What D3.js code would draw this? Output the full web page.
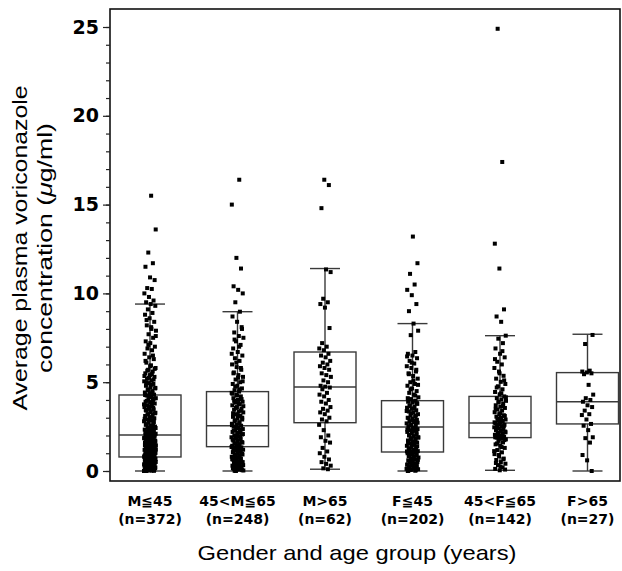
<!DOCTYPE html>
<html>
<head>
<meta charset="utf-8">
<script src="https://cdn.jsdelivr.net/npm/d3@7"></script>
<style>
  html, body { margin: 0; padding: 0; background: #fff; }
  svg { display: block; }
</style>
</head>
<body>
<div id="chart"></div>
<script>
// group labels, two lines each
const groups = ["M≦45", "45<M≦65", "M>65", "F≦45", "45<F≦65", "F>65"];
const counts = ["(n=372)", "(n=248)", "(n=62)", "(n=202)", "(n=142)", "(n=27)"];

// box statistics
const whiskerLow = [0, 0, 0.1, 0, 0.04, 0];
const q1 = [0.79, 1.37, 2.72, 1.07, 1.88, 2.65];
const median = [2.03, 2.55, 4.73, 2.48, 2.7, 3.9];
const q3 = [4.28, 4.47, 6.7, 3.96, 4.2, 5.54];
const whiskerHigh = [9.4, 8.97, 11.4, 8.3, 7.62, 7.7];

// individual concentrations (ug/ml), estimated from the dot strips
const valuesMle45 = [0, 0.02, 0.05, 0.06, 0.1, 0.11, 0.14, 0.17, 0.2, 0.22, 0.23, 0.27, 0.3, 0.31, 0.35, 0.36, 0.4, 0.42, 0.44, 0.47,
  0.5, 0.51, 0.55, 0.58, 0.6, 0.61, 0.63, 0.66, 0.69, 0.7, 0.72, 0.75, 0.77, 0.78, 0.8, 0.81, 0.84, 0.88, 0.9, 0.93,
  0.97, 1.0, 1.02, 1.06, 1.1, 1.12, 1.15, 1.19, 1.22, 1.25, 1.3, 1.31, 1.35, 1.38, 1.4, 1.44, 1.47, 1.5, 1.53, 1.56,
  1.6, 1.62, 1.66, 1.7, 1.71, 1.75, 1.78, 1.8, 1.84, 1.87, 1.9, 1.93, 1.96, 2.0, 2.02, 2.06, 2.1, 2.15, 2.2, 2.24,
  2.3, 2.33, 2.4, 2.45, 2.5, 2.56, 2.6, 2.68, 2.72, 2.8, 2.85, 2.9, 2.97, 3.0, 3.1, 3.15, 3.2, 3.28, 3.35, 3.4,
  3.47, 3.5, 3.6, 3.66, 3.7, 3.8, 3.85, 3.9, 4.0, 4.05, 4.1, 4.2, 4.25, 4.3, 4.35, 4.42, 4.5, 4.6, 4.65, 4.72,
  4.8, 4.9, 4.95, 5.05, 5.1, 5.2, 5.3, 5.4, 5.5, 5.6, 5.7, 5.8, 5.95, 6.1, 6.3, 6.4, 6.6, 6.8, 6.9, 7.0,
  7.2, 7.3, 7.5, 7.7, 7.9, 8.0, 8.2, 8.4, 8.6, 8.8, 8.9, 9.1, 9.3, 9.4, 9.5, 9.6, 9.8, 10.0, 10.25, 10.3,
  10.75, 10.9, 11.5, 11.7, 12.3, 13.6, 15.5,
  0, 0.01, 0.04, 0.08, 0.09, 0.13, 0.16, 0.19, 0.25, 0.28, 0.33, 0.38, 0.39, 0.45, 0.48, 0.53, 0.56, 0.59, 0.64, 0.67,
  0.71, 0.74, 0.79, 0.83, 0.86, 0.91, 0.95, 0.99, 1.04, 1.08, 1.14, 1.17, 1.21, 1.27, 1.33, 1.37, 1.42, 1.46, 1.52, 1.58,
  1.64, 1.68, 1.73, 1.77, 1.82, 1.86, 1.91, 1.98, 2.04, 2.12, 2.18, 2.27, 2.36, 2.42, 2.53, 2.64, 2.76, 2.88, 2.94, 3.05,
  3.18, 3.25, 3.32, 3.44, 3.55, 3.63, 3.75, 3.88, 3.95, 4.08, 4.16, 4.28, 4.4, 4.55, 4.68, 4.85, 5.0, 5.15, 5.25, 5.35,
  5.45, 5.65, 5.75, 5.9, 6.2, 6.5, 7.1, 7.6, 8.1, 8.5];
const valuesM45to65 = [0, 0.03, 0.08, 0.12, 0.18, 0.25, 0.3, 0.36, 0.42, 0.5, 0.55, 0.62, 0.7, 0.74, 0.8, 0.86, 0.9, 0.97, 1.0, 1.06,
  1.1, 1.15, 1.2, 1.24, 1.3, 1.33, 1.37, 1.42, 1.5, 1.55, 1.6, 1.66, 1.72, 1.8, 1.84, 1.9, 1.96, 2.0, 2.05, 2.12,
  2.2, 2.25, 2.3, 2.36, 2.42, 2.5, 2.55, 2.6, 2.66, 2.75, 2.8, 2.9, 2.95, 3.05, 3.1, 3.2, 3.3, 3.35, 3.45, 3.5,
  3.6, 3.7, 3.75, 3.85, 3.9, 4.0, 4.1, 4.2, 4.3, 4.4, 4.47, 4.55, 4.65, 4.8, 4.9, 5.0, 5.15, 5.3, 5.4, 5.55,
  5.7, 5.85, 6.0, 6.2, 6.35, 6.5, 6.7, 6.9, 7.1, 7.3, 7.5, 7.6, 7.8, 8.1, 8.4, 8.7, 8.97, 9.5, 10.0, 10.2,
  10.4, 11.4, 12.0, 15.0, 16.4,
  0.01, 0.05, 0.1, 0.15, 0.21, 0.28, 0.33, 0.39, 0.46, 0.52, 0.58, 0.66, 0.77, 0.83, 0.93, 1.03, 1.12, 1.18, 1.27, 1.35,
  1.46, 1.53, 1.63, 1.69, 1.77, 1.87, 1.93, 2.08, 2.16, 2.28, 2.33, 2.46, 2.58, 2.7, 2.86, 3.0, 3.15, 3.25, 3.4, 3.55,
  3.65, 3.8, 3.95, 4.05, 4.25, 4.35, 4.6, 4.75, 5.05, 5.25, 5.5, 5.8, 6.1, 6.6, 7.0, 7.4, 8.0];
const valuesMgt65 = [0.1, 0.15, 0.3, 0.4, 0.5, 0.65, 0.8, 1.0, 1.1, 1.3, 1.6, 1.7, 1.9, 2.0, 2.3, 2.6, 2.8, 2.9, 3.0, 3.2,
  3.3, 3.4, 3.5, 3.6, 3.8, 3.9, 4.0, 4.2, 4.3, 4.4, 4.6, 4.7, 4.75, 4.8, 5.0, 5.1, 5.3, 5.4, 5.5, 5.7,
  5.8, 5.9, 6.0, 6.1, 6.2, 6.4, 6.5, 6.6, 6.8, 6.9, 7.0, 7.2, 8.05, 9.2, 9.4, 9.5, 9.7, 11.2, 11.35, 14.8,
  16.1, 16.4];
const valuesFle45 = [0, 0.02, 0.06, 0.1, 0.14, 0.2, 0.25, 0.3, 0.35, 0.4, 0.46, 0.5, 0.56, 0.6, 0.66, 0.7, 0.76, 0.8, 0.86, 0.9,
  0.95, 1.0, 1.04, 1.07, 1.12, 1.2, 1.25, 1.3, 1.36, 1.42, 1.5, 1.55, 1.6, 1.66, 1.72, 1.8, 1.85, 1.9, 1.96, 2.0,
  2.06, 2.12, 2.2, 2.26, 2.3, 2.36, 2.42, 2.48, 2.55, 2.6, 2.68, 2.75, 2.8, 2.88, 2.95, 3.0, 3.08, 3.15, 3.2, 3.3,
  3.35, 3.42, 3.5, 3.56, 3.62, 3.7, 3.78, 3.85, 3.9, 3.96, 4.05, 4.15, 4.3, 4.4, 4.5, 4.65, 4.8, 4.9, 5.0, 5.2,
  5.35, 5.5, 5.6, 5.8, 5.9, 6.05, 6.2, 6.35, 6.5, 6.6, 6.7, 7.65, 7.9, 8.3, 9.0, 9.4, 9.9, 10.2, 10.5, 11.1,
  11.7, 13.2,
  0.01, 0.04, 0.08, 0.12, 0.18, 0.23, 0.28, 0.33, 0.38, 0.43, 0.53, 0.63, 0.73, 0.83, 0.93, 1.02, 1.1, 1.17, 1.28, 1.39,
  1.47, 1.58, 1.69, 1.77, 1.88, 1.93, 2.03, 2.15, 2.23, 2.33, 2.45, 2.58, 2.72, 2.85, 2.98, 3.12, 3.25, 3.38, 3.53, 3.66,
  3.82, 3.93, 4.1, 4.25, 4.6, 4.85, 5.1, 5.45, 5.7, 6.1, 6.45];
const valuesF45to65 = [0.04, 0.12, 0.2, 0.33, 0.41, 0.5, 0.62, 0.7, 0.83, 0.95, 1.05, 1.18, 1.3, 1.42, 1.5, 1.61, 1.7, 1.78, 1.84, 1.88,
  1.93, 2.0, 2.04, 2.11, 2.15, 2.22, 2.26, 2.3, 2.37, 2.4, 2.46, 2.5, 2.57, 2.6, 2.66, 2.7, 2.78, 2.86, 2.9, 3.0,
  3.06, 3.14, 3.2, 3.31, 3.4, 3.46, 3.55, 3.62, 3.7, 3.8, 3.86, 3.95, 4.03, 4.1, 4.2, 4.32, 4.45, 4.6, 4.77, 4.9,
  5.02, 5.2, 5.36, 5.6, 5.8, 6.0, 6.15, 6.4, 6.6, 6.9, 7.2, 7.45, 7.62, 8.4, 8.7, 9.1, 11.4, 12.8, 17.4, 24.9,
  0.08, 0.25, 0.45, 0.66, 0.9, 1.12, 1.35, 1.55, 1.74, 1.82, 1.9, 1.98, 2.08, 2.18, 2.28, 2.43, 2.53, 2.63, 2.74, 2.82,
  2.95, 3.1, 3.25, 3.5, 3.66, 3.9, 4.15, 4.38, 4.7, 5.1, 5.5, 6.3, 6.75];
const valuesFgt65 = [0, 0.6, 0.9, 1.6, 1.85, 1.9, 2.3, 2.55, 2.65, 2.9, 3.15, 3.2, 3.4, 3.6, 3.7, 3.9, 4.0, 4.1, 4.3, 4.85,
  5.45, 5.5, 5.55, 5.6, 5.65, 7.15, 7.66];

const groupValues = [valuesMle45, valuesM45to65, valuesMgt65, valuesFle45, valuesF45to65, valuesFgt65];

const width = 622, height = 571;
const margin = { top: 9, right: 2, bottom: 90, left: 110 };

const svg = d3.select("#chart").append("svg")
  .attr("width", width)
  .attr("height", height);

const y = d3.scaleLinear().domain([0, 25]).range([471, 27]);
const x = d3.scalePoint().domain(groups).range([150, 587.5]);

const boxHalf = 31, capHalf = 15, jitter = 12, dot = 4;

// frame
svg.append("rect")
  .attr("x", margin.left).attr("y", margin.top)
  .attr("width", width - margin.left - margin.right)
  .attr("height", height - margin.top - margin.bottom)
  .attr("fill", "none")
  .attr("stroke", "#111")
  .attr("stroke-width", 1.6);

// y axis: minor and major ticks
const minor = svg.append("g")
  .attr("transform", `translate(${margin.left},0)`)
  .call(d3.axisLeft(y).tickValues(d3.range(0, 26, 1)).tickSize(4).tickFormat(""));
minor.select(".domain").remove();

const major = svg.append("g")
  .attr("transform", `translate(${margin.left},0)`)
  .call(d3.axisLeft(y).tickValues([0, 5, 10, 15, 20, 25]).tickSize(7).tickPadding(4));
major.select(".domain").remove();
major.selectAll("text")
  .attr("font-family", "DejaVu Sans, sans-serif")
  .attr("font-weight", "bold")
  .attr("font-size", 19)
  .attr("fill", "#000");
svg.selectAll(".tick line").attr("stroke", "#222").attr("stroke-width", 1.2);

// boxes
const box = svg.append("g")
  .selectAll("g")
  .data(groups)
  .join("g");

box.append("line")
  .attr("x1", d => x(d)).attr("x2", d => x(d))
  .attr("y1", (d, i) => y(q3[i])).attr("y2", (d, i) => y(whiskerHigh[i]));
box.append("line")
  .attr("x1", d => x(d)).attr("x2", d => x(d))
  .attr("y1", (d, i) => y(q1[i])).attr("y2", (d, i) => y(whiskerLow[i]));
box.append("line")
  .attr("x1", d => x(d) - capHalf).attr("x2", d => x(d) + capHalf)
  .attr("y1", (d, i) => y(whiskerHigh[i])).attr("y2", (d, i) => y(whiskerHigh[i]));
box.append("line")
  .attr("x1", d => x(d) - capHalf).attr("x2", d => x(d) + capHalf)
  .attr("y1", (d, i) => y(whiskerLow[i])).attr("y2", (d, i) => y(whiskerLow[i]));
box.append("rect")
  .attr("x", d => x(d) - boxHalf)
  .attr("y", (d, i) => y(q3[i]))
  .attr("width", boxHalf * 2)
  .attr("height", (d, i) => y(q1[i]) - y(q3[i]))
  .attr("fill", "none");
box.append("line")
  .attr("x1", d => x(d) - boxHalf).attr("x2", d => x(d) + boxHalf)
  .attr("y1", (d, i) => y(median[i])).attr("y2", (d, i) => y(median[i]));
box.selectAll("line, rect")
  .attr("stroke", "#3a3a3a")
  .attr("stroke-width", 1.4);

// jittered dots
const dots = [];
groupValues.forEach((vals, g) => {
  vals.forEach((v, i) => {
    const off = ((i * 0.61803398875 + g * 0.37) % 1 - 0.5) * jitter;
    dots.push({ group: groups[g], value: v, off: off });
  });
});

svg.append("g")
  .selectAll("rect")
  .data(dots)
  .join("rect")
  .attr("x", d => x(d.group) + d.off - dot / 2)
  .attr("y", d => y(d.value) - dot / 2)
  .attr("width", dot)
  .attr("height", dot)
  .attr("fill", "#000");

// x category labels
const labels = svg.append("g")
  .attr("font-family", "DejaVu Sans, sans-serif")
  .attr("font-weight", "bold")
  .attr("font-size", 14)
  .attr("text-anchor", "middle")
  .attr("fill", "#000");

labels.selectAll(".grp")
  .data(groups)
  .join("text")
  .attr("class", "grp")
  .attr("x", d => x(d))
  .attr("y", 506)
  .text(d => d);

labels.selectAll(".cnt")
  .data(counts)
  .join("text")
  .attr("class", "cnt")
  .attr("x", (d, i) => x(groups[i]))
  .attr("y", 524)
  .text(d => d);

// axis titles
svg.append("text")
  .attr("x", 357)
  .attr("y", 560)
  .attr("text-anchor", "middle")
  .attr("font-family", "Liberation Sans, Arial, sans-serif")
  .attr("font-size", 21)
  .attr("textLength", 319)
  .attr("lengthAdjust", "spacingAndGlyphs")
  .text("Gender and age group (years)");

const yTitle = svg.append("g")
  .attr("font-family", "Liberation Sans, Arial, sans-serif")
  .attr("font-size", 21)
  .attr("text-anchor", "middle");

yTitle.append("text")
  .attr("transform", "translate(27,248) rotate(-90)")
  .attr("textLength", 325)
  .attr("lengthAdjust", "spacingAndGlyphs")
  .text("Average plasma voriconazole");

const t2 = yTitle.append("text")
  .attr("transform", "translate(52,248) rotate(-90)")
  .attr("textLength", 250)
  .attr("lengthAdjust", "spacingAndGlyphs");
t2.append("tspan").text("concentration  (");
t2.append("tspan").attr("font-style", "italic").text("μ");
t2.append("tspan").text("g/ml)");
</script>
</body>
</html>
